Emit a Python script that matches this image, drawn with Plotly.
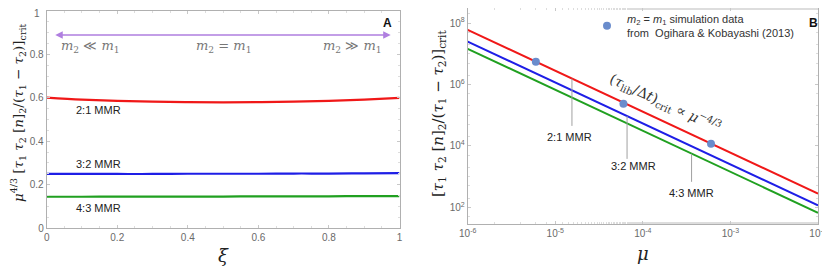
import plotly.graph_objects as go

# ---------------- data ----------------
# Panel A: normalized critical value vs xi
xi = [0.0, 0.1, 0.2, 0.3, 0.4, 0.5, 0.6, 0.7, 0.8, 0.9, 1.0]
a_21 = [0.601, 0.592, 0.586, 0.582, 0.580, 0.579, 0.580, 0.582, 0.586, 0.592, 0.600]
a_32 = [0.249, 0.249, 0.249, 0.249, 0.250, 0.250, 0.250, 0.251, 0.251, 0.252, 0.253]
a_43 = [0.144, 0.144, 0.145, 0.145, 0.145, 0.145, 0.146, 0.146, 0.146, 0.147, 0.147]

# Panel B: critical value vs mu (power law endpoints)
mu_line = [1e-6, 1e-2]
b_21 = [6.0e7, 2.8e2]
b_32 = [2.5e7, 1.16e2]
b_43 = [1.45e7, 6.7e1]

# simulation data (Ogihara & Kobayashi 2013)
mu_sim = [6.0e-6, 6.0e-5, 6.0e-4]
val_sim = [5.5e6, 2.35e5, 1.17e4]

# leader lines for labels in panel B
lead_mu = {"2:1": 1.55e-5, "3:2": 6.6e-5, "4:3": 3.6e-4}
lead_top = {"2:1": 1.55e6, "3:2": 9.4e4, "4:3": 5.6e3}
lead_bot = {"2:1": 4.5e4, "3:2": 3.8e3, "4:3": 6.8e2}
lab_pos = {"2:1": (-4.832, 4.29), "3:2": (-4.112, 3.35), "4:3": (-3.45, 2.47)}

xticks_a = [0, 0.2, 0.4, 0.6, 0.8, 1]
yticks_a = [0, 0.2, 0.4, 0.6, 0.8, 1]
xticks_b = [1e-6, 1e-5, 1e-4, 1e-3, 1e-2]
xtext_b = ["10<sup>-6</sup>", "10<sup>-5</sup>", "10<sup>-4</sup>", "10<sup>-3</sup>", "10<sup>-2</sup>"]
yticks_b = [1e2, 1e4, 1e6, 1e8]
ytext_b = ["10<sup>2</sup>", "10<sup>4</sup>", "10<sup>6</sup>", "10<sup>8</sup>"]

RED = "#f01818"
BLUE = "#1e1ee6"
GREEN = "#20a020"
SANS = "Liberation Sans, Arial, sans-serif"
SERIF = "DejaVu Serif, Liberation Serif, serif"
TICKC = "#6a6a6a"
FRAME = "#b0b0b0"

# page body has an 8px margin; figure is sized/positioned to compensate
OFF = 8
W, H = 830 - OFF, 267 - OFF


def px(x):
    return (x - OFF) / W


def py(y):
    return min(1.0, max(0.0, 1 - (y - OFF) / H))


fig = go.Figure()

for ys, c in [(a_21, RED), (a_32, BLUE), (a_43, GREEN)]:
    fig.add_trace(go.Scatter(x=xi, y=ys, mode="lines", line=dict(color=c, width=2.2, shape="spline"),
                             showlegend=False, xaxis="x", yaxis="y", hoverinfo="skip"))

for ys, c in [(b_21, RED), (b_32, BLUE), (b_43, GREEN)]:
    fig.add_trace(go.Scatter(x=mu_line, y=ys, mode="lines", line=dict(color=c, width=2),
                             showlegend=False, xaxis="x2", yaxis="y2", hoverinfo="skip"))

for k in lead_mu:
    fig.add_trace(go.Scatter(x=[lead_mu[k], lead_mu[k]], y=[lead_top[k], lead_bot[k]], mode="lines",
                             line=dict(color="#a0a0a0", width=1), showlegend=False,
                             xaxis="x2", yaxis="y2", hoverinfo="skip"))

fig.add_trace(go.Scatter(x=mu_sim, y=val_sim, mode="markers",
                         marker=dict(color="#6a8ccc", size=8),
                         name="<i>m</i><sub>2</sub> = <i>m</i><sub>1</sub> simulation data<br>"
                              "from  Ogihara &amp; Kobayashi (2013)",
                         showlegend=True, xaxis="x2", yaxis="y2", hoverinfo="skip"))

axis_common = dict(showline=True, linecolor=FRAME, linewidth=1, mirror="ticks", automargin=False,
                   ticks="inside", ticklen=3, tickcolor="#c8c8c8", showgrid=False, zeroline=False,
                   ticklabeloverflow="allow",
                   tickfont=dict(family=SANS, size=10, color=TICKC))

# top tick label of panel A is placed as an annotation so it is not clipped at the page edge
ytext_a = [f"{v:g}" if v < 1 else "" for v in yticks_a]

fig.update_layout(
    width=W, height=H, margin=dict(l=0, r=0, t=0, b=0, autoexpand=False),
    paper_bgcolor="white", plot_bgcolor="white",
    xaxis=dict(domain=[px(46.7), px(399.5)], range=[0, 1], tickvals=xticks_a,
               ticktext=[f"{v:g}" for v in xticks_a], anchor="y",
               minor=dict(ticks="inside", ticklen=2, tickcolor="#dddddd", dtick=0.05), **axis_common),
    yaxis=dict(domain=[py(228), py(11)], range=[0, 1], tickvals=yticks_a,
               ticktext=ytext_a, anchor="x",
               minor=dict(ticks="inside", ticklen=2, tickcolor="#dddddd", dtick=0.05), **axis_common),
    xaxis2=dict(domain=[px(467.7), px(818)], type="log", range=[-6, -2], tickvals=xticks_b,
                ticktext=xtext_b, anchor="y2",
                minor=dict(ticks="inside", ticklen=2, tickcolor="#dddddd"), **axis_common),
    yaxis2=dict(domain=[py(224.3), 1.0], type="log", range=[1.45, 8.49], tickvals=yticks_b,
                ticktext=ytext_b, anchor="x2",
                minor=dict(ticks="inside", ticklen=2, tickcolor="#dddddd"), **axis_common),
    legend=dict(x=px(587), y=1 + 3 / H, xanchor="left", yanchor="top", bgcolor="rgba(0,0,0,0)",
                font=dict(family=SANS, size=11, color="#333333"), itemwidth=30,
                tracegroupgap=0),
    showlegend=True,
)

ann = []
ann.append(dict(x=px(42), y=py(13.5), xref="paper", yref="paper", text=f"{yticks_a[-1]:g}",
                showarrow=False, xanchor="right", yanchor="middle",
                font=dict(family=SANS, size=10, color=TICKC)))
# panel A labels
for txt, yv in [("2:1 MMR", 0.544), ("3:2 MMR", 0.295), ("4:3 MMR", 0.092)]:
    ann.append(dict(x=0.148, y=yv, xref="x", yref="y", text=txt, showarrow=False,
                    xanchor="center", yanchor="middle",
                    font=dict(family=SANS, size=11, color="#222222")))
# double arrow
ann.append(dict(x=0.975, y=0.889, ax=0.02, ay=0.889, xref="x", yref="y", axref="x", ayref="y",
                text="", showarrow=True, arrowhead=2, startarrowhead=2, arrowside="end+start",
                arrowsize=1, arrowwidth=1.5, arrowcolor="#b07fe0"))
mi = "<i>m</i>"
for txt, xv in [(f"{mi}<sub>2</sub> ≪ {mi}<sub>1</sub>", 0.123), (f"{mi}<sub>2</sub> = {mi}<sub>1</sub>", 0.5),
                (f"{mi}<sub>2</sub> ≫ {mi}<sub>1</sub>", 0.866)]:
    ann.append(dict(x=xv, y=0.835, xref="x", yref="y", text=txt, showarrow=False,
                    xanchor="center", yanchor="middle",
                    font=dict(family=SERIF, size=13, color="#777777")))
ann.append(dict(x=0.966, y=0.945, xref="x", yref="y", text="<b>A</b>", showarrow=False,
                xanchor="center", yanchor="middle",
                font=dict(family=SANS, size=12, color="#111111")))
ann.append(dict(x=px(813), y=py(23), xref="paper", yref="paper", text="<b>B</b>", showarrow=False,
                xanchor="center", yanchor="middle",
                font=dict(family=SANS, size=12, color="#111111")))
# axis titles
ann.append(dict(x=px(223), y=py(255), xref="paper", yref="paper", text="<i>ξ</i>", showarrow=False,
                xanchor="center", yanchor="middle",
                font=dict(family=SERIF, size=18, color="#222222")))
ann.append(dict(x=px(643), y=py(253), xref="paper", yref="paper", text="<i>μ</i>", showarrow=False,
                xanchor="center", yanchor="middle",
                font=dict(family=SERIF, size=18, color="#222222")))
ann.append(dict(x=px(18), y=py(113), xref="paper", yref="paper", textangle=-90, showarrow=False,
                xanchor="center", yanchor="middle",
                text="<i>μ</i><sup>4/3</sup> [<i>τ</i><sub>1</sub> <i>τ</i><sub>2</sub> [<i>n</i>]<sub>2</sub>/(<i>τ</i><sub>1</sub> − <i>τ</i><sub>2</sub>)]<sub>crit</sub>",
                font=dict(family=SERIF, size=13.5, color="#222222")))
ann.append(dict(x=px(438), y=py(114), xref="paper", yref="paper", textangle=-90, showarrow=False,
                xanchor="center", yanchor="middle",
                text="[<i>τ</i><sub>1</sub> <i>τ</i><sub>2</sub> [<i>n</i>]<sub>2</sub>/(<i>τ</i><sub>1</sub> − <i>τ</i><sub>2</sub>)]<sub>crit</sub>",
                font=dict(family=SERIF, size=15, color="#222222")))
# panel B labels
for k, (lx, ly) in lab_pos.items():
    ann.append(dict(x=lx, y=ly, xref="x2", yref="y2", text=f"{k} MMR", showarrow=False,
                    xanchor="center", yanchor="middle",
                    font=dict(family=SANS, size=11, color="#222222")))
ann.append(dict(x=-3.75, y=5.4, xref="x2", yref="y2", textangle=25, showarrow=False,
                xanchor="center", yanchor="middle",
                text="(<i>τ</i><sub>lib</sub>/Δ<i>t</i>)<sub>crit</sub> ∝ <i>μ</i><sup>−4/3</sup>",
                font=dict(family=SERIF, size=14, color="#333333")))
fig.update_layout(annotations=ann)

fig.write_html("out.html")
